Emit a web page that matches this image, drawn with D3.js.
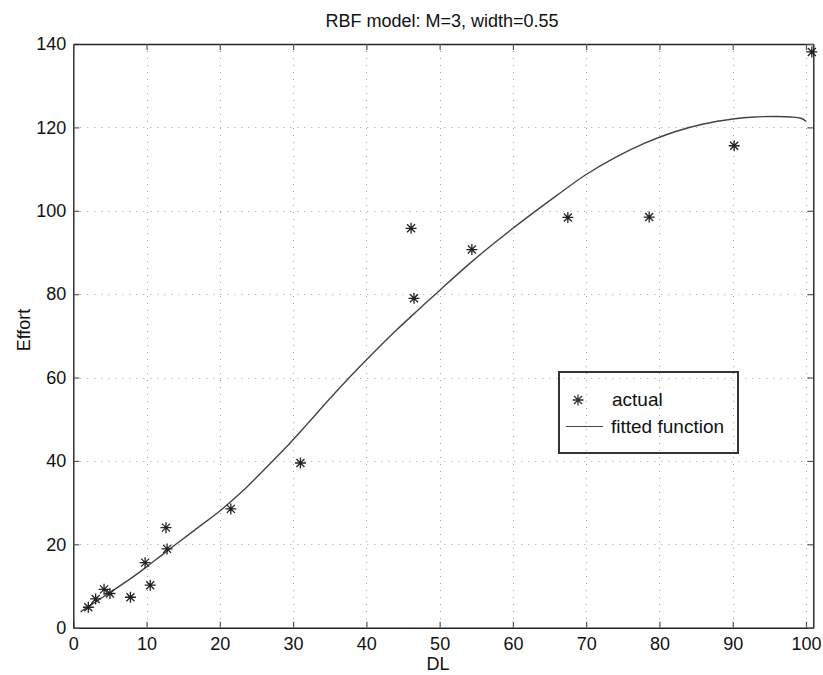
<!DOCTYPE html>
<html>
<head>
<meta charset="utf-8">
<script src="https://cdn.jsdelivr.net/npm/d3@7"></script>
<style>
  body { margin: 0; background: #fff; }
  svg { display: block; font-family: "Liberation Sans", Arial, sans-serif; }
</style>
</head>
<body>
<div id="chart"></div>
<script>
// observed data points (DL vs Effort)
const actualDL = [2.05, 3.05, 4.2, 5.0, 7.8, 9.8, 10.5, 12.65, 12.8, 21.5, 31.0, 46.1, 46.5, 54.4, 67.5, 78.6, 90.2, 100.8];
const actualEffort = [4.9, 6.9, 9.2, 8.2, 7.3, 15.6, 10.2, 24.0, 18.9, 28.5, 39.5, 95.8, 79.0, 90.7, 98.4, 98.5, 115.6, 138.1];

// fitted RBF curve
const fitDL = [1, 2, 4, 6, 8, 10, 12, 14, 17, 20, 23, 26, 29, 32, 35, 38, 41, 44, 47, 50, 54, 57, 60, 63, 66, 70, 74, 78, 82, 86, 90, 93, 96, 98, 99.3, 100];
const fitEffort = [3.8, 5.0, 7.3, 9.6, 12.0, 14.6, 17.3, 20.0, 24.0, 28.0, 32.6, 37.8, 43.2, 49.0, 54.9, 60.6, 66.0, 71.2, 76.1, 80.9, 87.2, 91.6, 95.8, 99.8, 103.7, 108.7, 112.8, 116.2, 118.9, 120.8, 122.0, 122.5, 122.6, 122.5, 122.2, 121.5];

const xTicks = [0, 10, 20, 30, 40, 50, 60, 70, 80, 90, 100];
const yTicks = [0, 20, 40, 60, 80, 100, 120, 140];

const width = 823, height = 675;
const plotLeft = 73.3, plotRight = 813.3, plotTop = 44, plotBottom = 627.7;
const fontSize = '18px';

const svg = d3.select('#chart').append('svg')
    .attr('width', width)
    .attr('height', height);

svg.append('rect').attr('width', width).attr('height', height).attr('fill', '#fff');

const x = d3.scaleLinear().domain([0, 101]).range([plotLeft, plotRight]);
const y = d3.scaleLinear().domain([0, 140]).range([plotBottom, plotTop]);

// dotted grid
const grid = svg.append('g')
    .attr('stroke', '#a0a0a0')
    .attr('stroke-width', 1)
    .attr('stroke-dasharray', '1,6');

grid.selectAll('.gx')
    .data(xTicks.filter(d => d > 0))
    .enter().append('line')
    .attr('x1', d => Math.round(x(d)) + 0.5)
    .attr('x2', d => Math.round(x(d)) + 0.5)
    .attr('y1', plotTop)
    .attr('y2', plotBottom);

grid.selectAll('.gy')
    .data(yTicks.filter(d => d > 0 && d < 140))
    .enter().append('line')
    .attr('y1', d => Math.round(y(d)) + 0.5)
    .attr('y2', d => Math.round(y(d)) + 0.5)
    .attr('x1', plotLeft)
    .attr('x2', plotRight);

// axes (ticks point inward, like matlab)
const styleAxis = g => {
    g.attr('font-family', null);
    g.selectAll('.domain').attr('stroke', '#222').attr('stroke-width', 1.4);
    g.selectAll('.tick line').attr('stroke', '#555').attr('stroke-width', 1.2);
    g.selectAll('.tick text').attr('fill', '#111').style('font-size', fontSize);
};

svg.append('g')
    .attr('transform', `translate(0,${plotBottom})`)
    .call(d3.axisBottom(x).tickValues(xTicks).tickSizeInner(-6).tickSizeOuter(0).tickPadding(10))
    .call(styleAxis);

svg.append('g')
    .attr('transform', `translate(${plotLeft},0)`)
    .call(d3.axisLeft(y).tickValues(yTicks).tickSizeInner(-6).tickSizeOuter(0).tickPadding(7))
    .call(styleAxis);

svg.append('g')
    .attr('transform', `translate(0,${plotTop})`)
    .call(d3.axisTop(x).tickValues(xTicks).tickSizeInner(-6).tickSizeOuter(0).tickFormat(''))
    .call(styleAxis);

svg.append('g')
    .attr('transform', `translate(${plotRight},0)`)
    .call(d3.axisRight(y).tickValues(yTicks).tickSizeInner(-6).tickSizeOuter(0).tickFormat(''))
    .call(styleAxis);

// fitted function
const fitData = fitDL.map((d, i) => ({dl: d, effort: fitEffort[i]}));
svg.append('path')
    .datum(fitData)
    .attr('fill', 'none')
    .attr('stroke', '#444')
    .attr('stroke-width', 1.4)
    .attr('d', d3.line()
        .curve(d3.curveCatmullRom.alpha(0.5))
        .x(d => x(d.dl))
        .y(d => y(d.effort)));

// asterisk markers
const star = 'M-5.5,0L5.5,0M0,-5.5L0,5.5M-4,-4L4,4M-4,4L4,-4';
const actualData = actualDL.map((d, i) => ({dl: d, effort: actualEffort[i]}));
svg.selectAll('.pt')
    .data(actualData)
    .enter().append('path')
    .attr('transform', d => `translate(${x(d.dl)},${y(d.effort)})`)
    .attr('d', star)
    .attr('fill', 'none')
    .attr('stroke', '#222')
    .attr('stroke-width', 1.3);

// title and labels
svg.append('text')
    .attr('x', 442)
    .attr('y', 27)
    .attr('text-anchor', 'middle')
    .style('font-size', fontSize)
    .attr('fill', '#111')
    .text('RBF model: M=3, width=0.55');

svg.append('text')
    .attr('x', 438)
    .attr('y', 670)
    .attr('text-anchor', 'middle')
    .style('font-size', fontSize)
    .attr('fill', '#111')
    .text('DL');

svg.append('text')
    .attr('transform', 'translate(30,330) rotate(-90)')
    .attr('text-anchor', 'middle')
    .style('font-size', fontSize)
    .attr('fill', '#111')
    .text('Effort');

// legend (transparent, grid shows through)
const legend = svg.append('g');
legend.append('rect')
    .attr('x', 559).attr('y', 372)
    .attr('width', 179).attr('height', 81)
    .attr('fill', 'none')
    .attr('stroke', '#333')
    .attr('stroke-width', 2);

legend.append('path')
    .attr('transform', 'translate(578,400)')
    .attr('d', star)
    .attr('fill', 'none')
    .attr('stroke', '#333')
    .attr('stroke-width', 1.3);
legend.append('text')
    .attr('x', 612).attr('y', 406)
    .style('font-size', '19px').attr('fill', '#111')
    .text('actual');

legend.append('line')
    .attr('x1', 566).attr('x2', 603)
    .attr('y1', 426.5).attr('y2', 426.5)
    .attr('stroke', '#444').attr('stroke-width', 1.2);
legend.append('text')
    .attr('x', 611).attr('y', 433)
    .style('font-size', '19px').attr('fill', '#111')
    .text('fitted function');
</script>
</body>
</html>
